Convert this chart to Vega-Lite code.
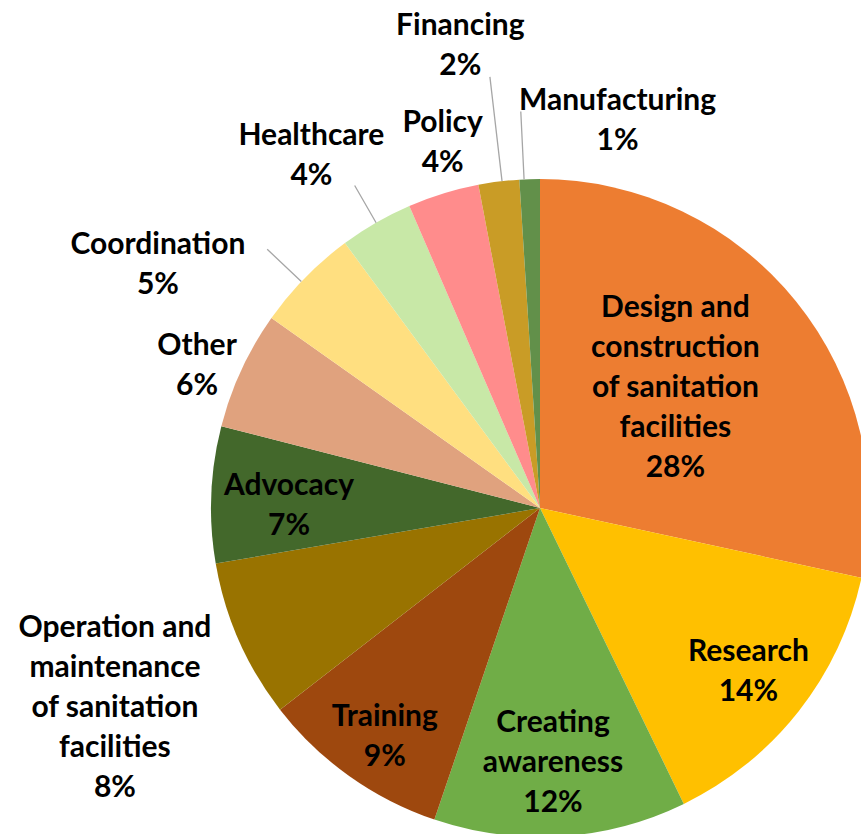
{
  "$schema": "https://vega.github.io/schema/vega-lite/v6.json",
  "width": 1080,
  "height": 1016,
  "padding": 0,
  "autosize": {"type": "none"},
  "background": "white",
  "config": {
    "view": {"stroke": null},
    "text": {"font": "Lato", "fontWeight": "bold", "fontSize": 30, "lineHeight": 40, "lineBreak": "\n", "color": "#000000", "align": "center", "baseline": "middle"}
  },
  "data": {
    "values": [
      {"name": "Design and construction of sanitation facilities", "value": 28.4, "label": "Design and\nconstruction\nof sanitation\nfacilities\n28%"},
      {"name": "Research", "value": 14.4, "label": "Research\n14%"},
      {"name": "Creating awareness", "value": 12.4, "label": "Creating\nawareness\n12%"},
      {"name": "Training", "value": 9.3, "label": "Training\n9%"},
      {"name": "Operation and maintenance of sanitation facilities", "value": 7.8, "label": "Operation and\nmaintenance\nof sanitation\nfacilities\n8%"},
      {"name": "Advocacy", "value": 6.7, "label": "Advocacy\n7%"},
      {"name": "Other", "value": 5.8, "label": "Other\n6%"},
      {"name": "Coordination", "value": 5.1, "label": "Coordination\n5%"},
      {"name": "Healthcare", "value": 3.6, "label": "Healthcare\n4%"},
      {"name": "Policy", "value": 3.5, "label": "Policy\n4%"},
      {"name": "Financing", "value": 2.0, "label": "Financing\n2%"},
      {"name": "Manufacturing", "value": 1.0, "label": "Manufacturing\n1%"}
    ]
  },
  "transform": [
    {"window": [{"op": "sum", "field": "value", "as": "end"}], "frame": [null, 0]},
    {"calculate": "datum.end - datum.value", "as": "start"},
    {"calculate": "(datum.start + datum.end) / 2", "as": "mid"}
  ],
  "encoding": {
    "theta": {"field": "mid", "type": "quantitative", "scale": {"domain": [0, 100]}}
  },
  "layer": [
    {
      "mark": {"type": "arc", "outerRadius": 329, "stroke": null},
      "encoding": {
        "theta": {"field": "start", "type": "quantitative", "scale": {"domain": [0, 100]}},
        "theta2": {"field": "end"},
        "color": {
          "field": "name", "type": "nominal", "legend": null,
          "scale": {
            "domain": ["Design and construction of sanitation facilities", "Research", "Creating awareness", "Training", "Operation and maintenance of sanitation facilities", "Advocacy", "Other", "Coordination", "Healthcare", "Policy", "Financing", "Manufacturing"],
            "range": ["#ED7D31", "#FFC000", "#70AD47", "#9E480E", "#997300", "#43682B", "#E0A27E", "#FFDF80", "#C8E8A7", "#FF8C8C", "#C99C26", "#62904A"]
          }
        }
      }
    },
    {
      "transform": [{"filter": "datum.name === 'Coordination'"}],
      "mark": {"type": "arc", "radius": 376, "radius2": 329, "thetaOffset": -0.017, "theta2Offset": -0.017, "fill": null, "stroke": "#A6A6A6", "strokeWidth": 1.3},
      "encoding": {"theta2": {"field": "mid"}}
    },
    {
      "transform": [{"filter": "datum.name === 'Healthcare'"}],
      "mark": {"type": "arc", "radius": 372, "radius2": 329, "fill": null, "stroke": "#A6A6A6", "strokeWidth": 1.3},
      "encoding": {"theta2": {"field": "mid"}}
    },
    {
      "transform": [{"filter": "datum.name === 'Financing'"}],
      "mark": {"type": "arc", "radius": 434, "radius2": 329, "thetaOffset": 0.01, "theta2Offset": 0.01, "fill": null, "stroke": "#A6A6A6", "strokeWidth": 1.3},
      "encoding": {"theta2": {"field": "mid"}}
    },
    {
      "transform": [{"filter": "datum.name === 'Manufacturing'"}],
      "mark": {"type": "arc", "radius": 397, "radius2": 329, "thetaOffset": -0.017, "theta2Offset": -0.017, "fill": null, "stroke": "#A6A6A6", "strokeWidth": 1.3},
      "encoding": {"theta2": {"field": "mid"}}
    },
    {
      "transform": [{"filter": "datum.name === 'Design and construction of sanitation facilities'"}],
      "mark": {"type": "text", "radius": 181, "thetaOffset": -0.047, "dy": -80},
      "encoding": {"text": {"field": "label"}}
    },
    {
      "transform": [{"filter": "datum.name === 'Research'"}],
      "mark": {"type": "text", "radius": 265, "thetaOffset": 0.0, "dy": -20},
      "encoding": {"text": {"field": "label"}}
    },
    {
      "transform": [{"filter": "datum.name === 'Creating awareness'"}],
      "mark": {"type": "text", "radius": 255, "thetaOffset": 0.012, "dy": -40},
      "encoding": {"text": {"field": "label"}}
    },
    {
      "transform": [{"filter": "datum.name === 'Training'"}],
      "mark": {"type": "text", "radius": 277, "thetaOffset": -0.024, "dy": -20},
      "encoding": {"text": {"field": "label"}}
    },
    {
      "transform": [{"filter": "datum.name === 'Operation and maintenance of sanitation facilities'"}],
      "mark": {"type": "text", "radius": 470, "thetaOffset": -0.026, "dy": -80},
      "encoding": {"text": {"field": "label"}}
    },
    {
      "transform": [{"filter": "datum.name === 'Advocacy'"}],
      "mark": {"type": "text", "radius": 251, "thetaOffset": -0.031, "dy": -20},
      "encoding": {"text": {"field": "label"}}
    },
    {
      "transform": [{"filter": "datum.name === 'Other'"}],
      "mark": {"type": "text", "radius": 371, "thetaOffset": -0.042, "dy": -20},
      "encoding": {"text": {"field": "label"}}
    },
    {
      "transform": [{"filter": "datum.name === 'Coordination'"}],
      "mark": {"type": "text", "radius": 453, "thetaOffset": -0.209, "dy": -20},
      "encoding": {"text": {"field": "label"}}
    },
    {
      "transform": [{"filter": "datum.name === 'Healthcare'"}],
      "mark": {"type": "text", "radius": 420, "thetaOffset": -0.054, "dy": -20},
      "encoding": {"text": {"field": "label"}}
    },
    {
      "transform": [{"filter": "datum.name === 'Policy'"}],
      "mark": {"type": "text", "radius": 378, "thetaOffset": 0.038, "dy": -20},
      "encoding": {"text": {"field": "label"}}
    },
    {
      "transform": [{"filter": "datum.name === 'Financing'"}],
      "mark": {"type": "text", "radius": 469, "thetaOffset": -0.045, "dy": -20},
      "encoding": {"text": {"field": "label"}}
    },
    {
      "transform": [{"filter": "datum.name === 'Manufacturing'"}],
      "mark": {"type": "text", "radius": 395, "thetaOffset": 0.229, "dy": -20},
      "encoding": {"text": {"field": "label"}}
    }
  ]
}
